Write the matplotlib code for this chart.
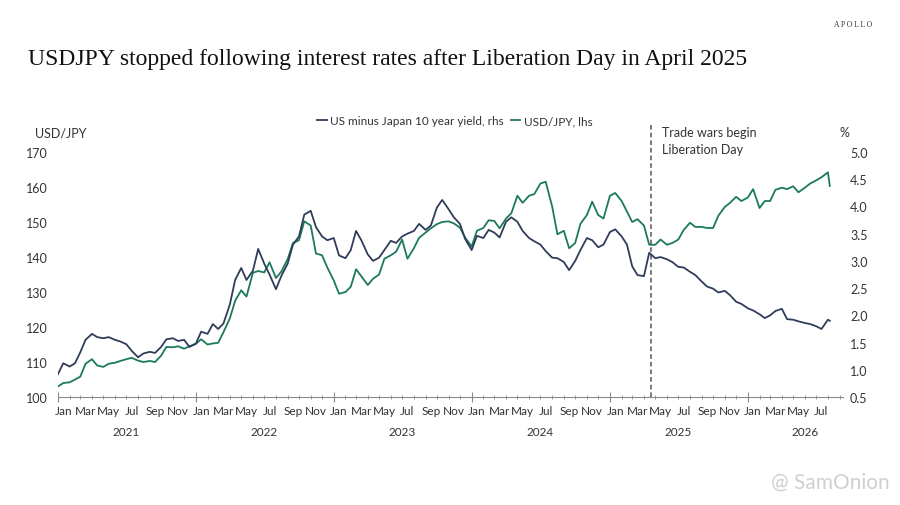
import matplotlib
matplotlib.use("Agg")
import matplotlib.pyplot as plt
import matplotlib.dates as mdates
import matplotlib.transforms as mtransforms
import pandas as pd

# semi-monthly readings (1st and 15th of each month), Jan 2021 .. Aug 2026
usdjpy = [
    # 2021
    103.0, 104.0, 104.2, 105.0, 105.8, 109.5, 110.8, 109.0, 108.6, 109.5, 109.8, 110.3,
    110.8, 111.2, 110.4, 110.0, 110.3, 110.0, 111.8, 114.3, 114.2, 114.5, 113.8, 114.5,
    # 2022
    115.2, 116.5, 115.0, 115.3, 115.5, 118.5, 122.5, 127.5, 130.5, 128.7, 135.5, 136.0,
    135.6, 138.5, 134.0, 135.8, 139.4, 144.0, 144.8, 150.2, 149.0, 141.0, 140.5, 137.0,
    # 2023
    133.3, 129.5, 130.0, 131.5, 136.5, 134.5, 132.0, 133.8, 135.0, 139.5, 140.5, 141.5,
    145.0, 139.5, 142.5, 145.5, 147.0, 148.2, 149.4, 150.0, 150.2, 149.6, 148.4, 145.5,
    # 2024
    143.0, 147.5, 148.3, 150.5, 150.3, 148.2, 151.0, 152.5, 157.5, 155.5, 157.5, 158.0,
    161.0, 161.5, 154.5, 146.5, 147.5, 142.5, 144.0, 149.5, 152.0, 155.8, 152.0, 151.0,
    # 2025
    157.5, 158.3, 156.0, 153.0, 150.0, 150.8, 149.0, 143.5, 143.5, 145.0, 143.5, 144.0,
    145.0, 147.7, 149.8, 148.6, 148.6, 148.3, 148.3, 151.8, 154.3, 155.5, 157.2, 156.0,
    # 2026
    157.0, 159.4, 154.0, 156.0, 156.0, 159.2, 159.8, 159.4, 160.2, 158.5, 159.8, 161.0,
    161.9, 162.8, 164.2,
]

yield_spread = [
    # 2021
    0.92, 1.12, 1.06, 1.12, 1.32, 1.55, 1.66, 1.60, 1.58, 1.60, 1.55, 1.52,
    1.47, 1.35, 1.23, 1.30, 1.33, 1.31, 1.42, 1.56, 1.58, 1.53, 1.55, 1.42,
    # 2022
    1.48, 1.70, 1.66, 1.84, 1.75, 1.85, 2.20, 2.65, 2.87, 2.65, 2.82, 3.22,
    2.95, 2.75, 2.48, 2.72, 2.95, 3.30, 3.45, 3.85, 3.92, 3.62, 3.45, 3.38,
    # 2023
    3.42, 3.10, 3.05, 3.20, 3.55, 3.38, 3.12, 3.00, 3.06, 3.20, 3.37, 3.33,
    3.45, 3.50, 3.55, 3.68, 3.57, 3.65, 3.98, 4.12, 3.95, 3.80, 3.68, 3.40,
    # 2024
    3.20, 3.46, 3.42, 3.57, 3.52, 3.43, 3.72, 3.80, 3.72, 3.55, 3.42, 3.36,
    3.30, 3.18, 3.06, 3.05, 2.98, 2.83, 3.00, 3.20, 3.42, 3.38, 3.25, 3.30,
    # 2025
    3.53, 3.58, 3.45, 3.30, 2.90, 2.74, 2.72, 3.15, 3.05, 3.07, 3.03, 2.98,
    2.89, 2.88, 2.80, 2.74, 2.62, 2.53, 2.49, 2.42, 2.45, 2.37, 2.25, 2.21,
    # 2026
    2.13, 2.09, 2.02, 1.95, 2.00, 2.08, 2.12, 1.93, 1.92, 1.89, 1.86, 1.84,
    1.80, 1.75, 1.92,
]

# last print
last_date = "2026-08-06"
last_usdjpy = 160.3
last_yield = 1.90

liberation_day = "2025-04-20"
month_labels = ["Jan", "Mar", "May", "Jul", "Sep", "Nov"]
years = [2021, 2022, 2023, 2024, 2025, 2026]
left_ticks = [100, 110, 120, 130, 140, 150, 160, 170]
right_ticks = [0.5, 1.0, 1.5, 2.0, 2.5, 3.0, 3.5, 4.0, 4.5, 5.0]

assert len(usdjpy) == len(yield_spread)
dates = list(pd.date_range("2021-01-01", periods=len(usdjpy), freq="SMS"))
dates.append(pd.Timestamp(last_date))
usdjpy = usdjpy + [last_usdjpy]
yield_spread = yield_spread + [last_yield]

GREEN = "#1b7a5c"
NAVY = "#2f3c5a"
TXT = "#333333"
SANS = ["Lato", "DejaVu Sans"]
SERIF = ["Liberation Serif", "DejaVu Serif"]

plt.rcParams["font.family"] = SANS

fig = plt.figure(figsize=(9, 5.06), dpi=100)
ax = fig.add_axes([0.0644, 0.2134, 0.8723, 0.4842])
ax2 = ax.twinx()

l_jpy, = ax.plot(dates, usdjpy, color=GREEN, lw=1.3, label="USD/JPY, lhs")
l_yld, = ax2.plot(dates, yield_spread, color=NAVY, lw=1.3,
                  label="US minus Japan 10 year yield, rhs")

ax.set_ylim(100, 170)
ax2.set_ylim(0.5, 5.0)
ax.set_xlim(pd.Timestamp("2021-01-01"), pd.Timestamp("2026-09-10"))

for a in (ax, ax2):
    for s in ("top", "left", "right"):
        a.spines[s].set_visible(False)
ax.spines["bottom"].set_color("#8a8a8a")
ax2.spines["bottom"].set_visible(False)

ax.set_yticks(left_ticks)
ax.set_yticklabels([str(v) for v in left_ticks])
ax2.set_yticks(right_ticks)
ax2.set_yticklabels([f"{v:.1f}" for v in right_ticks])
ax.tick_params(axis="y", length=0, labelsize=9, labelcolor=TXT)
ax2.tick_params(axis="y", length=0, pad=5, labelsize=9, labelcolor=TXT)
for t in ax.get_yticklabels():
    t.set_horizontalalignment("left")
ax.tick_params(axis="y", pad=23)

# x ticks: yearly major, monthly minor, no tick labels (drawn below)
ax.xaxis.set_major_locator(mdates.YearLocator())
ax.xaxis.set_minor_locator(mdates.MonthLocator())
ax.xaxis.set_major_formatter(plt.NullFormatter())
ax.tick_params(axis="x", which="major", direction="inout", length=7, color="#8a8a8a")
ax.tick_params(axis="x", which="minor", direction="inout", length=3.5, color="#8a8a8a")

trans = mtransforms.blended_transform_factory(ax.transData, fig.transFigure)
for y in years:
    for i, m in enumerate(month_labels):
        d = pd.Timestamp(year=y, month=2 * i + 1, day=15)
        if d > pd.Timestamp("2026-08-31"):
            continue
        ax.text(d, 1 - 412 / 506, m, transform=trans, ha="center", va="center",
                fontsize=8.5, color=TXT)
    mid = pd.Timestamp(year=y, month=6 if y == 2026 else 7, day=1)
    ax.text(mid, 1 - 433 / 506, str(y), transform=trans, ha="center", va="center",
            fontsize=8.5, color=TXT)

# Liberation Day marker
ld = pd.Timestamp(liberation_day)
ax.plot([ld, ld], [100, 178], ls=(0, (3, 2)), color="#555555", lw=1.1,
        clip_on=False, zorder=5)
fig.text(662 / 900, 1 - 133 / 506, "Trade wars begin", fontsize=9, color=TXT,
         va="center", ha="left")
fig.text(662 / 900, 1 - 150 / 506, "Liberation Day", fontsize=9, color=TXT,
         va="center", ha="left")

# axis captions
fig.text(35 / 900, 1 - 133 / 506, "USD/JPY", fontsize=9, color=TXT, va="center", ha="left")
fig.text(840 / 900, 1 - 133 / 506, "%", fontsize=9, color=TXT, va="center", ha="left")

fig.legend(handles=[l_yld, l_jpy], loc="center", bbox_to_anchor=(455 / 900, 1 - 122 / 506),
           ncol=2, frameon=False, fontsize=8.5, handlelength=0.8, handletextpad=0.3,
           columnspacing=0.6, labelcolor=TXT)

# title and branding
fig.text(28 / 900, 1 - 60 / 506,
         "USDJPY stopped following interest rates after Liberation Day in April 2025",
         family=SERIF, fontsize=17, color="#111111", va="center", ha="left")
fig.text(872 / 900, 1 - 25 / 506, "A P O L L O", family=SERIF, fontsize=5.5,
         color="#333333", va="center", ha="right")
fig.text(890 / 900, 1 - 483 / 506, "@ SamOnion", fontsize=15, color="#cfcfcf",
         va="center", ha="right")

fig.savefig("out.png", dpi=100, facecolor="white")
